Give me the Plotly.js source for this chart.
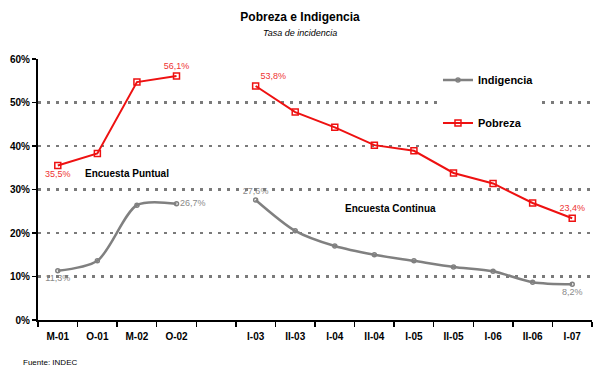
<!DOCTYPE html>
<html><head><meta charset="utf-8">
<script src="https://cdn.plot.ly/plotly-3.0.1.min.js"></script>
<style>html,body{margin:0;padding:0;background:#fff}#c{width:600px;height:371px}</style>
</head><body><div id="c"></div>
<script>
const categories = ["M-01","O-01","M-02","O-02","","I-03","II-03","I-04","II-04","I-05","II-05","I-06","II-06","I-07"];
const pobreza    = [35.5, 38.3, 54.7, 56.1, null, 53.8, 47.8, 44.3, 40.2, 38.9, 33.8, 31.4, 26.9, 23.4];
const indigencia = [11.3, 13.6, 26.4, 26.7, null, 27.6, 20.5, 17.0, 15.0, 13.6, 12.2, 11.2, 8.7, 8.2];
const pobrezaLabelIdx = {0:"bottom center", 3:"top center", 5:"top right", 13:"top center"};
const indigLabelIdx   = {0:"bottom center", 3:"middle right", 5:"top center", 13:"bottom center"};
const yTickVals = [0,10,20,30,40,50,60];

const xs = categories.map((c,i)=>i);
const fmt = v => v.toFixed(1).replace('.', ',') + '%';
function labels(vals, idx){ return vals.map((v,i)=> (i in idx && v!=null) ? fmt(v) : ''); }
function positions(vals, idx){ return vals.map((v,i)=> (i in idx) ? idx[i] : 'top center'); }

const font = "Liberation Sans, Arial, sans-serif";
const traces = [
  {x: xs, y: indigencia, name: 'Indigencia', type:'scatter', mode:'lines+markers+text',
   line:{color:'#808080', width:2.5, shape:'spline', smoothing:0.8},
   marker:{symbol:'circle-open', size:4, color:'#808080', line:{width:1.5}},
   text: labels(indigencia, indigLabelIdx), textposition: positions(indigencia, indigLabelIdx),
   textfont:{family:font, size:9, color:'#8a8a8a'}, cliponaxis:false, legendgroup:'a', hoverinfo:'skip'},
  {x: xs, y: pobreza, name: 'Pobreza', type:'scatter', mode:'lines+markers+text',
   line:{color:'#ee1111', width:2},
   marker:{symbol:'square-open', size:6, color:'#ee1111', line:{width:1.5}},
   text: labels(pobreza, pobrezaLabelIdx), textposition: positions(pobreza, pobrezaLabelIdx),
   textfont:{family:font, size:9, color:'#ee3333'}, cliponaxis:false, legendgroup:'b', hoverinfo:'skip'}
];

const layout = {
  width:600, height:371,
  margin:{l:38, r:8, t:59, b:51},
  paper_bgcolor:'#fff', plot_bgcolor:'#fff',
  font:{family:font, color:'#000'},
  title:{text:'<b>Pobreza e Indigencia</b>', x:0.5, xanchor:'center', y:0.955, yanchor:'middle', font:{family:font, size:12, color:'#000'}},
  showlegend:true,
  legend:{x:0.722, xanchor:'left', y:1.005, yanchor:'top', bgcolor:'#fff', font:{family:font, size:11, color:'#000', weight:'bold'},
          title:{text:' ', font:{size:6}},
          tracegroupgap:24, traceorder:'grouped', itemwidth:30},
  xaxis:{range:[-0.5,13.5], tickmode:'array', tickvals:xs, ticktext:categories, ticks:'',
         showgrid:false, zeroline:false, showline:true, linecolor:'#000', linewidth:2,
         tickfont:{family:font, size:10, color:'#000', weight:'bold'}, ticklabelstandoff:6,
         minor:{tickmode:'array', tickvals:xs.map(i=>i+0.5).concat([-0.5]), ticks:'outside', ticklen:5, tickwidth:1.5, tickcolor:'#000', showgrid:false}},
  yaxis:{range:[0,60], tickmode:'array', tickvals:yTickVals, ticktext:yTickVals.map(v=>v+'%'),
         ticks:'outside', ticklen:4, tickwidth:1.5, tickcolor:'#000',
         showline:true, linecolor:'#000', linewidth:2, zeroline:false,
         showgrid:true, gridcolor:'#7a7a7a', gridwidth:2.5, griddash:'3px,6px',
         tickfont:{family:font, size:10, color:'#000', weight:'bold'}},
  annotations:[
    {text:'<i>Tasa de incidencia</i>', xref:'paper', yref:'paper', x:0.473, y:1.0, yshift:26, xanchor:'center', yanchor:'middle', showarrow:false, font:{family:font, size:9, color:'#000'}},
    {text:'<b>Encuesta Puntual</b>', xref:'x', yref:'y', x:1.75, y:33.6, xanchor:'center', yanchor:'middle', showarrow:false, font:{family:font, size:10, color:'#000'}},
    {text:'<b>Encuesta Continua</b>', xref:'x', yref:'y', x:8.4, y:25.6, xanchor:'center', yanchor:'middle', showarrow:false, font:{family:font, size:10, color:'#000'}},
    {text:'Fuente: INDEC', xref:'paper', yref:'paper', x:-0.03, y:0, yshift:-42, xanchor:'left', yanchor:'middle', showarrow:false, font:{family:font, size:8, color:'#000'}}
  ]
};
Plotly.newPlot('c', traces, layout, {staticPlot:true, displayModeBar:false});
</script></body></html>
